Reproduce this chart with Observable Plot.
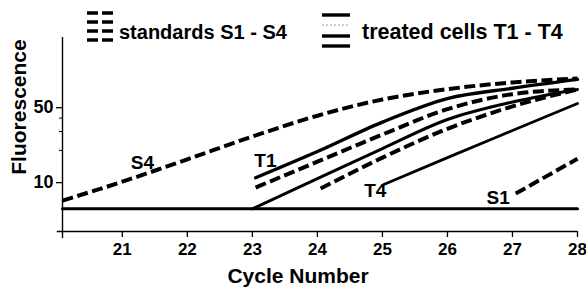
<!DOCTYPE html>
<html><head><meta charset="utf-8">
<script src="https://cdn.jsdelivr.net/npm/d3@7"></script>
<script src="https://cdn.jsdelivr.net/npm/@observablehq/plot@0.6"></script>
<style>
html,body{margin:0;padding:0;background:#fff;}
#chart{position:relative;width:586px;height:293px;overflow:hidden;}
#legend{position:absolute;left:0;top:0;}
#ylab{position:absolute;left:0;top:0;}
svg text{font-family:"Liberation Sans",Arial,sans-serif;}
</style></head><body><div id="chart"></div>
<script>
// ---- data (cycle number, fluorescence) ----
const xTicks = [21, 22, 23, 24, 25, 26, 27, 28];
const yTicks = [10, 50];
const yMinorTicks = [20, 30, 40];

const s4Cycles = [20.08, 21, 22, 23, 24, 25, 26, 27, 28];
const s4Values = [6.8, 10.2, 16.5, 26.9, 42.1, 59.7, 74.5, 86.1, 93.7];
const s3Cycles = [23.05, 24, 25, 26, 27, 28];
const s3Values = [9.0, 15.7, 28.1, 48.5, 66.9, 74.0];
const s2Cycles = [24.05, 25, 26, 27, 28];
const s2Values = [8.8, 17.1, 31.8, 51.4, 74.0];
const s1Cycles = [27.05, 28];
const s1Values = [7.9, 16.7];

const t1Cycles = [23.05, 24, 25, 26, 27, 28];
const t1Values = [11.1, 19.5, 36.7, 60.8, 75.9, 91.8];
const t2Cycles = [23.0, 24, 25, 26, 27, 28];
const t2Values = [5.7, 10.9, 20.8, 38.8, 56.5, 74.0];
const t4Cycles = [25.02, 26, 27, 28];
const t4Values = [9.6, 17.1, 30.6, 54.7];
const baseCycles = [20.08, 28];
const baseValues = [5.7, 5.7];

const labelNames = ["S4", "T1", "T4", "S1"];
const labelCycles = [21.31, 23.2, 24.89, 26.78];
const labelValues = [15.4, 16.0, 8.4, 7.24];

const legendLabels = ["standards S1 - S4", "treated cells T1 - T4"];
const yLabel = "Fluorescence";
const xLabel = "Cycle Number";

// ---- build series ----
const rows = (c, v) => c.map((d, i) => ({cycle: d, fluor: v[i]}));
const dashed = [
  rows(s4Cycles, s4Values), rows(s3Cycles, s3Values),
  rows(s2Cycles, s2Values), rows(s1Cycles, s1Values)
];
const solid = [
  {data: rows(t1Cycles, t1Values), w: 3.4},
  {data: rows(t2Cycles, t2Values), w: 3.0},
  {data: rows(t4Cycles, t4Values), w: 2.8},
  {data: rows(baseCycles, baseValues), w: 3.0}
];

const marks = [
  Plot.ruleY([3.5], {x1: 20.0, x2: 28, stroke: "black", strokeWidth: 1.4}),
  Plot.ruleX([20.08], {y1: 3.0, y2: 226, stroke: "black", strokeWidth: 1.4}),
  Plot.axisX({ticks: xTicks, tickSize: 6, tickPadding: 5, fontSize: 17, fontWeight: "bold",
    tickFormat: d => String(d), label: null, strokeWidth: 1.3}),
  Plot.axisY({ticks: yTicks, tickSize: 6, tickPadding: 3, fontSize: 18, fontWeight: "bold",
    tickFormat: d => String(d), label: null, strokeWidth: 1.3}),
  Plot.axisY({ticks: yMinorTicks, tickSize: 3, tickFormat: () => "", label: null, strokeWidth: 1}),
  ...dashed.map(d => Plot.lineY(d, {x: "cycle", y: "fluor", stroke: "black", strokeWidth: 4,
    strokeDasharray: "11 4.5", curve: "monotone-x", strokeLinecap: "butt"})),
  ...solid.map(s => Plot.lineY(s.data, {x: "cycle", y: "fluor", stroke: "black", strokeWidth: s.w,
    curve: "monotone-x"})),
  Plot.text(labelNames, {x: (d, i) => labelCycles[i], y: (d, i) => labelValues[i], text: d => d,
    fontSize: 19, fontWeight: "bold", fill: "black"}),
  Plot.text([xLabel], {frameAnchor: "bottom", dx: -22, dy: 51,
    fontSize: 21, fontWeight: "bold", fill: "black"})
];

const chart = Plot.plot({
  width: 586, height: 293,
  marginLeft: 62, marginRight: 9, marginTop: 37, marginBottom: 62,
  x: {domain: [20.08, 28]},
  y: {type: "log", domain: [3.5, 226]},
  style: {fontFamily: "Liberation Sans, Arial, sans-serif", color: "black", background: "white"},
  marks
});
document.getElementById("chart").appendChild(chart);

// ---- y axis title ----
const yl = d3.select("#chart").append("svg").attr("id", "ylab").attr("width", 40).attr("height", 293);
yl.append("text").attr("transform", "translate(18,107) rotate(-90)")
  .attr("text-anchor", "middle").attr("dominant-baseline", "central")
  .attr("font-size", 21).attr("font-weight", "bold").text(yLabel);

// ---- legend (above the plot area) ----
const lg = d3.select("#chart").append("svg").attr("id", "legend")
  .attr("width", 586).attr("height", 52).style("left", "40px");
const ox = -40;
[13, 22, 31, 40].forEach(y => {
  lg.append("line").attr("x1", 87 + ox).attr("x2", 113 + ox).attr("y1", y).attr("y2", y)
    .attr("stroke", "black").attr("stroke-width", 3.6).attr("stroke-dasharray", "11 4");
});
lg.append("text").attr("x", 119 + ox).attr("y", 39).attr("font-size", 20).attr("font-weight", "bold")
  .text(legendLabels[0]);
[[15, "black", null], [25, "#999", "2 2"], [36, "black", null], [46, "black", null]].forEach(([y, c, da]) => {
  const l = lg.append("line").attr("x1", 322 + ox).attr("x2", 350 + ox).attr("y1", y).attr("y2", y)
    .attr("stroke", c).attr("stroke-width", c === "black" ? 3.4 : 1.2);
  if (da) l.attr("stroke-dasharray", da);
});
lg.append("text").attr("x", 362 + ox).attr("y", 39).attr("font-size", 21.5).attr("font-weight", "bold")
  .text(legendLabels[1]);
</script>
</body></html>
